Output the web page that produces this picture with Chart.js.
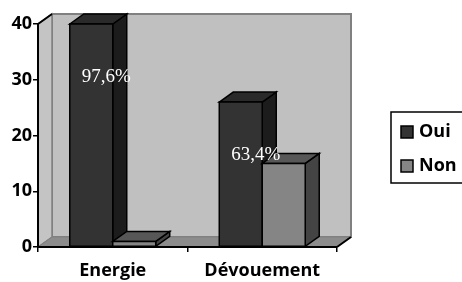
<!DOCTYPE html>
<html>
<head>
<meta charset="utf-8">
<script src="https://cdn.jsdelivr.net/npm/chart.js@4"></script>
<style>
html,body{margin:0;padding:0;background:#fff;}
canvas{display:block;}
</style>
</head>
<body>
<canvas id="c" width="462" height="282" style="width:462px;height:282px"></canvas>
<script>
const categories = ['Energie', 'Dévouement'];
const seriesNames = ['Oui', 'Non'];
const ouiValues = [40, 26];
const nonValues = [1, 15];
const pctLabels = ['97,6%', '63,4%'];
const yTicks = [0, 10, 20, 30, 40];

const DX = 14, DY = -10;
const colors = {
  Oui: {front: '#333333', side: '#1c1c1c', top: '#2a2a2a'},
  Non: {front: '#858585', side: '#444444', top: '#575757'}
};
const FONT = "'Open Sans', 'DejaVu Sans', sans-serif";

function poly(ctx, pts, fill, stroke, lw) {
  ctx.beginPath();
  ctx.moveTo(pts[0][0], pts[0][1]);
  for (let k = 1; k < pts.length; k++) ctx.lineTo(pts[k][0], pts[k][1]);
  ctx.closePath();
  if (fill) { ctx.fillStyle = fill; ctx.fill(); }
  if (stroke) { ctx.strokeStyle = stroke; ctx.lineWidth = lw; ctx.stroke(); }
}

const threeD = {
  id: 'threeD',
  beforeDraw(chart) {
    const ctx = chart.ctx;
    const {left, right, top, bottom} = chart.chartArea;
    ctx.save();
    ctx.fillStyle = '#fff';
    ctx.fillRect(0, 0, chart.width, chart.height);
    poly(ctx, [[left + DX, top + DY], [right + DX, top + DY], [right + DX, bottom + DY], [left + DX, bottom + DY]], '#c0c0c0', '#808080', 2);
    poly(ctx, [[left, top], [left + DX, top + DY], [left + DX, bottom + DY], [left, bottom]], '#c4c4c4', '#808080', 1.5);
    poly(ctx, [[left, bottom], [left + DX, bottom + DY], [right + DX, bottom + DY], [right, bottom]], '#8c8c8c', '#808080', 1);
    ctx.restore();
  },
  afterDatasetsDraw(chart) {
    const ctx = chart.ctx;
    ctx.save();
    ctx.lineJoin = 'miter';
    for (let i = 0; i < categories.length; i++) {
      chart.data.datasets.forEach((ds, d) => {
        const el = chart.getDatasetMeta(d).data[i];
        const {x, y, base, width} = el.getProps(['x', 'y', 'base', 'width'], true);
        const l = x - width / 2, r = x + width / 2;
        const c = colors[ds.label];
        poly(ctx, [[r, y], [r + DX, y + DY], [r + DX, base + DY], [r, base]], c.side, '#000', 1.5);
        poly(ctx, [[l, y], [l + DX, y + DY], [r + DX, y + DY], [r, y]], c.top, '#000', 1.5);
        poly(ctx, [[l, y], [r, y], [r, base], [l, base]], c.front, '#000', 1.5);
      });
    }
    ctx.fillStyle = '#fff';
    ctx.font = "19px 'Liberation Serif', 'DejaVu Serif', serif";
    ctx.textAlign = 'center';
    ctx.textBaseline = 'middle';
    for (let i = 0; i < categories.length; i++) {
      const el = chart.getDatasetMeta(0).data[i];
      const {x, y} = el.getProps(['x', 'y'], true);
      ctx.fillText(pctLabels[i], x + 15, y + 53);
    }
    ctx.restore();
  },
  afterDraw(chart) {
    const ctx = chart.ctx;
    const {left, right, top, bottom} = chart.chartArea;
    ctx.save();
    ctx.strokeStyle = '#000';
    ctx.lineWidth = 2;
    ctx.beginPath();
    ctx.moveTo(left, top); ctx.lineTo(left + DX, top + DY);
    ctx.moveTo(right, bottom); ctx.lineTo(right + DX, bottom + DY);
    ctx.stroke();
    const lx = 391, ly = 112, lw = 80, lh = 71;
    ctx.fillStyle = '#fff';
    ctx.fillRect(lx, ly, lw, lh);
    ctx.lineWidth = 1.5;
    ctx.strokeRect(lx, ly, lw, lh);
    ctx.font = 'bold 18px ' + FONT;
    ctx.textAlign = 'left';
    ctx.textBaseline = 'middle';
    const rows = [132, 166];
    chart.data.datasets.forEach((ds, d) => {
      const c = colors[ds.label];
      ctx.fillStyle = c.front;
      ctx.fillRect(401, rows[d] - 6, 12, 12);
      ctx.lineWidth = 1.5;
      ctx.strokeStyle = '#000';
      ctx.strokeRect(401, rows[d] - 6, 12, 12);
      ctx.fillStyle = '#000';
      ctx.fillText(ds.label, 419, rows[d]);
    });
    ctx.restore();
  }
};

new Chart(document.getElementById('c'), {
  type: 'bar',
  data: {
    labels: categories,
    datasets: [
      {label: seriesNames[0], data: ouiValues, backgroundColor: colors.Oui.front, borderWidth: 0},
      {label: seriesNames[1], data: nonValues, backgroundColor: colors.Non.front, borderWidth: 0}
    ]
  },
  options: {
    responsive: false,
    animation: false,
    events: [],
    layout: {padding: {top: 24, right: 125, left: 0, bottom: 0}},
    datasets: {bar: {categoryPercentage: 0.575, barPercentage: 1}},
    plugins: {legend: {display: false}, tooltip: {enabled: false}},
    scales: {
      x: {
        afterFit(s) { s.height = 35; },
        grid: {drawOnChartArea: false, tickLength: 5, color: '#000', lineWidth: 1.5, offset: true},
        border: {color: '#000', width: 2},
        ticks: {color: '#000', font: {family: FONT, size: 18, weight: 'bold'}, padding: 8}
      },
      y: {
        min: 0, max: 40,
        afterFit(s) { s.width = 38; },
        afterBuildTicks(s) { s.ticks = yTicks.map(v => ({value: v})); },
        grid: {drawOnChartArea: false, tickLength: 5, color: '#000', lineWidth: 1.5},
        border: {color: '#000', width: 2},
        ticks: {color: '#000', font: {family: FONT, size: 18, weight: 'bold'}, padding: 1}
      }
    }
  },
  plugins: [threeD]
});
</script>
</body>
</html>
